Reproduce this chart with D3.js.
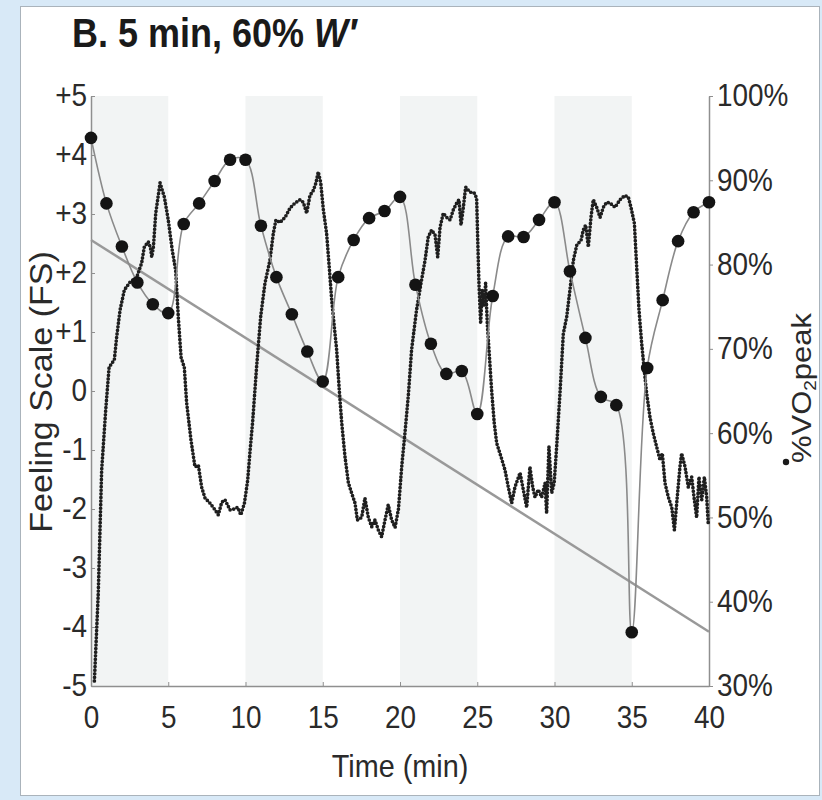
<!DOCTYPE html>
<html>
<head>
<meta charset="utf-8">
<script src="https://cdn.jsdelivr.net/npm/d3@7"></script>
<style>
  html, body { margin: 0; padding: 0; background: #d8e9f7; }
  svg { display: block; }
  text { font-family: "Liberation Sans", Arial, Helvetica, sans-serif; fill: #2a2a2a; }
</style>
</head>
<body>
<svg id="chart" width="822" height="800"></svg>
<script>
// ---- Data ---------------------------------------------------------------

// Feeling Scale (mean) sampled once per minute
const fsTime = [0,1,2,3,4,5,6,7,8,9,10,11,12,13,14,15,16,17,18,19,20,
                21,22,23,24,25,26,27,28,29,30,31,32,33,34,35,36,37,38,39,40];
const fsValue = [4.29,3.18,2.45,1.84,1.47,1.32,2.83,3.18,3.56,3.92,3.92,
                 2.80,1.93,1.30,0.67,0.16,1.93,2.56,2.93,3.05,3.29,
                 1.80,0.80,0.29,0.34,-0.39,1.61,2.62,2.61,2.90,3.20,
                 2.03,0.90,-0.10,-0.24,-4.09,0.39,1.54,2.54,3.03,3.20];

// Linear trend of the Feeling Scale over the session (value at start and end)
const fsTrendTime = [0, 40];
const fsTrendValue = [2.56, -4.08];

// Oxygen uptake, % of peak
const vo2Time = [0.22,0.47,0.69,0.95,1.17,1.35,1.51,1.66,1.88,2.16,2.52,2.96,3.28,3.45,3.71,3.85,3.93,4.04,4.19,4.47,4.75,
  5.0,5.26,5.48,5.65,5.83,6.04,6.19,6.47,6.73,6.95,7.16,7.38,7.7,8.03,8.24,8.46,8.67,9.0,9.26,9.5,9.7,9.93,
  10.14,10.3,10.46,10.72,10.98,11.26,11.58,11.8,11.97,12.23,12.56,12.88,13.2,13.53,13.74,13.96,14.17,14.39,14.56,14.71,14.87,
  15.04,15.25,15.42,15.58,15.75,15.9,16.07,16.23,16.44,16.66,16.87,17.09,17.24,17.52,17.73,17.95,18.17,18.38,18.6,18.81,19.03,19.24,19.46,19.68,19.9,
  20.11,20.32,20.54,20.75,21.07,21.36,21.62,21.83,22.05,22.27,22.44,22.59,22.8,23.02,23.24,23.45,23.67,23.82,23.95,24.1,24.25,24.53,24.8,24.96,
  25.02,25.11,25.22,25.32,25.44,25.54,25.65,25.76,25.93,26.1,26.26,26.54,26.8,27.01,27.23,27.44,27.77,27.98,28.2,28.41,28.59,28.74,28.95,29.17,29.39,29.49,29.64,29.82,29.98,
  30.14,30.36,30.57,30.79,31.0,31.22,31.44,31.72,31.86,32.02,32.19,32.36,32.51,32.73,32.95,33.16,33.38,33.59,33.92,34.24,34.56,34.78,34.95,
  35.17,35.32,35.47,35.64,35.81,35.96,36.18,36.39,36.61,36.83,36.98,37.15,37.37,37.59,37.76,37.91,38.12,38.23,38.45,38.66,38.88,39.03,39.2,39.35,39.53,39.7,39.85,39.95];
const vo2Pct = [30.6,41.0,55.6,62.7,67.8,68.3,68.7,71.4,74.6,77.0,77.9,78.5,80.2,82.1,82.7,82.0,80.9,82.1,86.1,89.7,88.0,
  85.3,81.7,79.3,73.8,69.0,67.8,63.6,59.2,56.0,56.2,53.6,52.3,51.7,50.9,50.3,51.8,52.1,50.9,51.0,51.2,50.3,51.7,
  54.4,58.0,61.3,67.9,73.8,77.8,80.5,83.7,85.3,85.0,85.6,86.7,87.3,87.7,87.4,86.1,88.2,88.8,89.7,91.0,89.7,
  86.5,83.7,79.7,75.8,72.6,69.9,65.1,61.2,57.2,54.1,52.9,51.7,49.7,50.0,52.3,50.0,48.9,49.7,48.5,47.7,49.7,51.5,49.7,48.8,51.0,
  56.0,60.0,64.5,69.9,74.6,77.8,80.5,83.3,84.1,83.5,80.9,84.4,86.1,85.6,85.3,86.5,87.3,87.7,84.7,86.8,89.2,88.6,88.5,87.9,
  83.7,77.8,73.0,77.0,75.0,77.8,73.0,69.9,65.1,61.2,58.8,57.2,55.6,53.6,51.7,53.6,55.3,53.3,51.2,56.0,53.6,52.4,53.3,52.4,54.1,50.5,58.4,52.9,54.1,
  58.4,64.9,71.8,73.8,77.0,80.5,82.3,82.9,84.1,84.7,82.1,85.6,87.7,86.8,85.6,86.8,87.4,87.3,86.8,87.7,88.2,88.0,86.8,
  84.9,79.7,74.6,70.7,67.5,64.8,61.9,60.0,58.4,56.8,57.6,54.1,52.4,51.2,48.5,51.7,56.0,57.6,56.0,53.6,54.8,52.4,50.0,54.8,52.1,54.8,52.4,49.3];

// Work bouts (shaded), start and end minute
const boutStart = [0, 10, 20, 30];
const boutEnd   = [5, 15, 25, 35];

// Tick labels
const timeTicks = [0, 5, 10, 15, 20, 25, 30, 35, 40];
const fsTicks   = [5, 4, 3, 2, 1, 0, -1, -2, -3, -4, -5];
const vo2Ticks  = [30, 40, 50, 60, 70, 80, 90, 100];

// ---- Layout -------------------------------------------------------------
const W = 822, H = 800;
const plot = { left: 91, right: 709, top: 96, bottom: 686 };
const axisColor = "#8f8f8f";
const narrow = 0.9;   // horizontal squeeze applied to all lettering

const svg = d3.select("#chart");

svg.append("rect").attr("x", 0).attr("y", 0).attr("width", W).attr("height", H).attr("fill", "#d8e9f7");
svg.append("rect")
  .attr("x", 20.5).attr("y", 6.5).attr("width", 799).attr("height", 789)
  .attr("fill", "#ffffff").attr("stroke", "#aab3bb").attr("stroke-width", 1);

const x = d3.scaleLinear().domain([0, 40]).range([plot.left, plot.right]);
const yFS = d3.scaleLinear().domain([-5, 5]).range([plot.bottom, plot.top]);
const yVO2 = d3.scaleLinear().domain([30, 100]).range([plot.bottom, plot.top]);

// shaded bouts
svg.append("g").selectAll("rect")
  .data(boutStart.map((s, i) => [s, boutEnd[i]]))
  .join("rect")
  .attr("x", d => x(d[0]))
  .attr("width", d => x(d[1]) - x(d[0]))
  .attr("y", plot.top)
  .attr("height", plot.bottom - plot.top)
  .attr("fill", "#f2f4f4");

// ---- Axes ---------------------------------------------------------------
function styleAxis(g, size) {
  g.select(".domain").attr("stroke", axisColor).attr("stroke-width", 1.5);
  g.selectAll(".tick line").attr("stroke", axisColor).attr("stroke-width", 1);
  g.selectAll(".tick text").attr("font-size", size).attr("fill", "#2a2a2a")
    .attr("font-family", "'Liberation Sans', Arial, sans-serif")
    .each(function () {
      const t = d3.select(this);
      const xv = +t.attr("x") || 0;
      t.attr("x", xv / narrow).attr("transform", `scale(${narrow},1)`);
    });
}

const gLeft = svg.append("g").attr("transform", `translate(${plot.left},0)`)
  .call(d3.axisLeft(yFS).tickValues(fsTicks).tickSizeInner(-4).tickSizeOuter(0).tickPadding(4)
    .tickFormat(d => d > 0 ? "+" + d : String(d)));
styleAxis(gLeft, 31);

const gRight = svg.append("g").attr("transform", `translate(${plot.right},0)`)
  .call(d3.axisRight(yVO2).tickValues(vo2Ticks).tickSizeInner(4).tickSizeOuter(0).tickPadding(4)
    .tickFormat(d => d + "%"));
styleAxis(gRight, 31);

const gBottom = svg.append("g").attr("transform", `translate(0,${plot.bottom})`)
  .call(d3.axisBottom(x).tickValues(timeTicks).tickSizeInner(-4).tickSizeOuter(0).tickPadding(20));
styleAxis(gBottom, 31);

// ---- Series -------------------------------------------------------------
// FS trend line
svg.append("path")
  .datum(fsTrendTime.map((t, i) => [t, fsTrendValue[i]]))
  .attr("d", d3.line().x(d => x(d[0])).y(d => yFS(d[1])))
  .attr("fill", "none").attr("stroke", "#999").attr("stroke-width", 2.5);

// VO2 trace, drawn as a chain of dots
svg.append("path")
  .datum(vo2Time.map((t, i) => [t, vo2Pct[i]]))
  .attr("d", d3.line().x(d => x(d[0])).y(d => yVO2(d[1])))
  .attr("fill", "none").attr("stroke", "#1e1e1e").attr("stroke-width", 3.7)
  .attr("stroke-linecap", "round").attr("stroke-dasharray", "0 3.6");

// FS line and markers
const fsData = fsTime.map((t, i) => [t, fsValue[i]]);
svg.append("path")
  .datum(fsData)
  .attr("d", d3.line().curve(d3.curveCatmullRom.alpha(0.5)).x(d => x(d[0])).y(d => yFS(d[1])))
  .attr("fill", "none").attr("stroke", "#8a8a8a").attr("stroke-width", 1.6);

svg.append("g").selectAll("circle")
  .data(fsData).join("circle")
  .attr("cx", d => x(d[0])).attr("cy", d => yFS(d[1]))
  .attr("r", 6.3).attr("fill", "#141414");

// ---- Titles -------------------------------------------------------------
const title = svg.append("text")
  .attr("transform", `translate(72,47) scale(${narrow},1)`)
  .attr("font-size", 40).attr("font-weight", "bold").style("fill", "#1a1a1a");
title.append("tspan").text("B. 5 min, 60% ");
title.append("tspan").attr("font-style", "italic").text("W′");

svg.append("text")
  .attr("transform", `translate(${(plot.left + plot.right) / 2},777) scale(${narrow},1)`)
  .attr("text-anchor", "middle").attr("font-size", 32)
  .text("Time (min)");

svg.append("text")
  .attr("transform", `translate(52,392) rotate(-90) scale(1,${narrow})`)
  .attr("text-anchor", "middle").attr("font-size", 34)
  .text("Feeling Scale (FS)");

// right-hand axis title with its marker key
const vLabel = svg.append("text")
  .attr("transform", `translate(811,388) rotate(-90) scale(1,${narrow})`)
  .attr("text-anchor", "middle").attr("font-size", 31);
vLabel.append("tspan").text("%VO");
vLabel.append("tspan").attr("font-size", 19).attr("dy", 6).text("2");
vLabel.append("tspan").attr("dy", -6).text("peak");

svg.append("circle").attr("cx", 786).attr("cy", 462).attr("r", 3.2).attr("fill", "#1a1a1a");
</script>
</body>
</html>
